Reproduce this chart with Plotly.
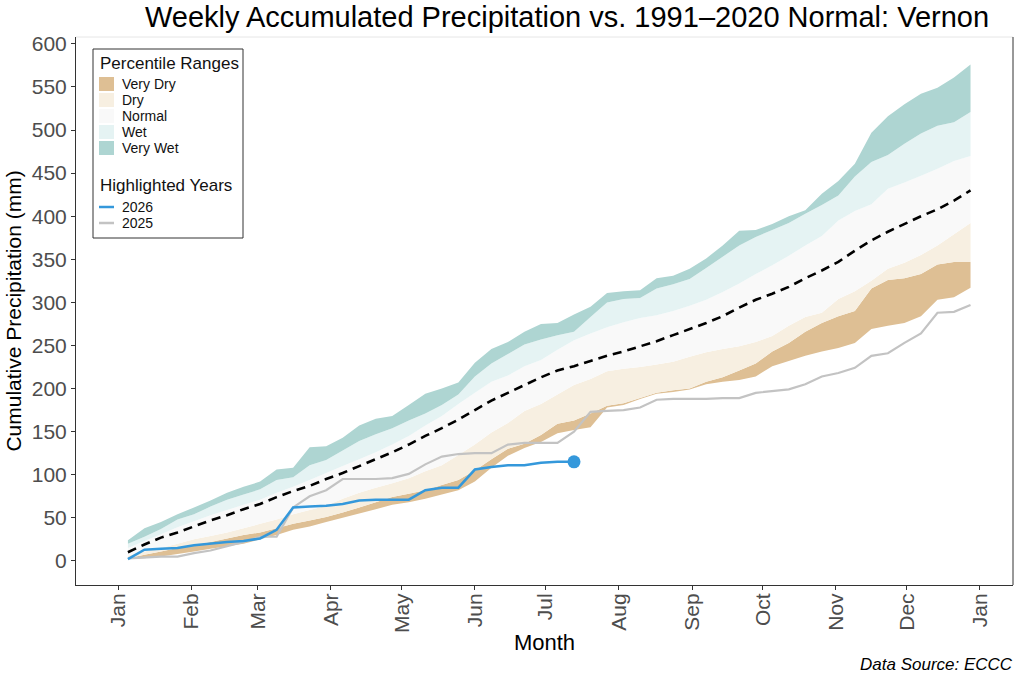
import pandas as pd
import plotly.graph_objects as go

# ---------------- data ----------------
weeks = pd.date_range("2026-01-05", periods=52, freq="7D")

pmax = [24, 38, 45, 54, 62, 70, 79, 86, 92, 106, 108, 132, 133,
        143, 157, 165, 168, 181, 194, 200, 207, 230, 246, 254, 266, 275, 276, 286, 295,
        311, 313, 314, 328, 331, 339, 351, 366, 383, 384, 391, 400, 407, 426, 441, 461,
        497, 516, 530, 542, 549, 561, 576]
p90 = [20, 28, 37, 48, 54, 63, 71, 77, 83, 94, 97, 111, 117,
       128, 139, 147, 154, 163, 171, 181, 193, 214, 229, 240, 251, 257, 262, 266, 283,
       300, 304, 305, 316, 321, 327, 340, 353, 366, 376, 384, 392, 403, 413, 424, 446,
       463, 471, 484, 496, 505, 509, 521]
p75 = [15, 23, 31, 39, 46, 53, 59, 65, 71, 79, 86, 94, 102,
       110, 118, 126, 135, 145, 157, 168, 182, 195, 208, 215, 226, 233, 245, 256, 264,
       271, 277, 282, 285, 290, 296, 303, 312, 322, 333, 343, 354, 366, 377, 395, 406,
       414, 432, 439, 447, 455, 464, 470]
median = [10, 19, 27, 33, 40, 47, 53, 60, 66, 74, 81, 87, 95,
          102, 110, 118, 126, 135, 145, 154, 164, 175, 186, 195, 204, 213, 221, 226, 232,
          238, 243, 249, 255, 262, 269, 276, 284, 294, 303, 310, 318, 328, 337, 347, 360,
          372, 382, 391, 400, 408, 418, 430]
p25 = [6, 11, 15, 20, 25, 29, 33, 38, 43, 48, 54, 59, 64,
       72, 79, 85, 90, 96, 104, 111, 123, 135, 149, 160, 174, 182, 193, 204, 211,
       220, 223, 225, 228, 231, 237, 242, 246, 249, 254, 261, 273, 283, 288, 304, 313,
       325, 339, 346, 355, 366, 379, 392]
p10 = [3, 7, 11, 15, 18, 22, 26, 30, 33, 38, 43, 47, 51,
       56, 62, 68, 74, 78, 82, 88, 94, 105, 118, 130, 136, 146, 159, 163, 171,
       180, 183, 189, 195, 198, 200, 208, 213, 221, 229, 243, 253, 266, 276, 284, 290,
       316, 326, 328, 333, 344, 347, 347]
pmin = [2, 3, 5, 8, 11, 14, 17, 20, 25, 30, 36, 40, 45,
        50, 55, 60, 65, 68, 72, 77, 82, 92, 108, 122, 131, 138, 148, 152, 155,
        178, 181, 188, 194, 196, 199, 205, 208, 210, 214, 226, 232, 238, 243, 247, 253,
        269, 273, 276, 284, 303, 306, 317]

y2025 = [3, 4, 5, 5, 9, 12, 17, 22, 28, 28, 62, 75, 82,
         95, 95, 95, 96, 101, 112, 121, 124, 125, 125, 135, 137, 137, 137, 150, 173,
         174, 175, 178, 187, 188, 188, 188, 189, 189, 195, 197, 199, 205, 214, 218, 224,
         238, 241, 253, 264, 288, 289, 297]
y2026 = [2, 13, 14, 15, 18, 20, 22, 23, 26, 36, 62, 63, 64,
         66, 70, 71, 71, 71, 82, 85, 85, 106, 109, 111, 111, 114, 115, 115]

band_names = ["Very Dry", "Dry", "Normal", "Wet", "Very Wet"]
band_colors = ["#DEBF94", "#F7EFE1", "#F9F9F9", "#E5F3F3", "#AED5D2"]
band_edges = [pmin, p10, p25, p75, p90, pmax]

year_names = ["2026", "2025"]
year_colors = ["#3498DB", "#C3C3C3"]

month_ticks = pd.date_range("2026-01-01", "2027-01-01", freq="MS")
month_labels = ["Jan", "Feb", "Mar", "Apr", "May", "Jun", "Jul",
                "Aug", "Sep", "Oct", "Nov", "Dec", "Jan"]

FONT = "Liberation Sans, Arial, sans-serif"

# plot-area geometry (pixels) used for the legend box layout
W, H = 1024, 682
ML, MR, MT, MB = 76, 11, 37, 97
PW, PH = W - ML - MR, H - MT - MB


def px(x):
    return (x - ML) / PW


def py(y):
    return (H - MB - y) / PH


fig = go.Figure()

xs = list(weeks)
for i, (name, col) in enumerate(zip(band_names, band_colors)):
    lo = band_edges[i]
    hi = band_edges[i + 1]
    fig.add_trace(go.Scatter(
        x=xs + xs[::-1], y=list(hi) + list(lo)[::-1],
        fill="toself", fillcolor=col, mode="none", name=name,
        showlegend=False, hoverinfo="skip"))

fig.add_trace(go.Scatter(x=xs, y=median, mode="lines", showlegend=False,
                         line=dict(color="black", width=2.6, dash="9px,6px")))

fig.add_trace(go.Scatter(x=xs, y=y2025, mode="lines", name="2025", showlegend=False,
                         line=dict(color=year_colors[1], width=2.2)))
fig.add_trace(go.Scatter(x=xs[:len(y2026)], y=y2026, mode="lines", name="2026", showlegend=False,
                         line=dict(color=year_colors[0], width=2.5)))
fig.add_trace(go.Scatter(x=[xs[len(y2026) - 1]], y=[y2026[-1]], mode="markers",
                         marker=dict(color=year_colors[0], size=13), showlegend=False))

# ---- legend (drawn as a boxed key) ----
shapes = [
    dict(type="line", xref="paper", yref="paper", x0=0, x1=1, y0=1, y1=1,
         line=dict(color="#E6E6E6", width=1)),
    dict(type="line", xref="paper", yref="paper", x0=1, x1=1, y0=0, y1=1,
         line=dict(color="#333", width=1)),
    dict(type="rect", xref="paper", yref="paper", x0=px(93), x1=px(243), y0=py(238), y1=py(49),
         line=dict(color="#333", width=1), fillcolor="white", layer="above"),
]
annotations = [
    dict(text="Percentile Ranges", xref="paper", yref="paper", x=px(98), y=py(63),
         xanchor="left", yanchor="middle", showarrow=False, font=dict(size=17, color="#111")),
    dict(text="Highlighted Years", xref="paper", yref="paper", x=px(98), y=py(186),
         xanchor="left", yanchor="middle", showarrow=False, font=dict(size=17, color="#111")),
]
for i, (name, col) in enumerate(zip(band_names, band_colors)):
    yc = 84 + 16 * i
    shapes.append(dict(type="rect", xref="paper", yref="paper", x0=px(99), x1=px(114),
                       y0=py(yc + 7), y1=py(yc - 7), line=dict(width=0), fillcolor=col, layer="above"))
    annotations.append(dict(text=name, xref="paper", yref="paper", x=px(120), y=py(yc),
                            xanchor="left", yanchor="middle", showarrow=False,
                            font=dict(size=14, color="#111")))
for i, (name, col) in enumerate(zip(year_names, year_colors)):
    yc = 207 + 16 * i
    shapes.append(dict(type="line", xref="paper", yref="paper", x0=px(99), x1=px(114),
                       y0=py(yc), y1=py(yc), line=dict(color=col, width=2.5), layer="above"))
    annotations.append(dict(text=name, xref="paper", yref="paper", x=px(120), y=py(yc),
                            xanchor="left", yanchor="middle", showarrow=False,
                            font=dict(size=14, color="#111")))

annotations.append(dict(text="Data Source: ECCC", xref="paper", yref="paper", x=1.002, y=py(664),
                        xanchor="right", yanchor="middle", showarrow=False,
                        font=dict(size=17, color="black", family=FONT, style="italic")))

fig.update_layout(
    width=W, height=H,
    margin=dict(l=ML, r=MR, t=MT, b=MB),
    paper_bgcolor="white", plot_bgcolor="white",
    font=dict(family=FONT),
    showlegend=False,
    title=dict(text="Weekly Accumulated Precipitation vs. 1991\u20132020 Normal: Vernon",
               x=567 / W, xanchor="center", y=1 - 17 / H, yanchor="middle",
               font=dict(size=29, color="black")),
    xaxis=dict(range=["2025-12-14", "2027-01-15"], type="date",
               tickvals=list(month_ticks), ticktext=month_labels, tickangle=-90,
               tickfont=dict(size=21, color="#4D4D4D"), ticklabelstandoff=-5,
               ticks="outside", ticklen=4, tickcolor="#333",
               showline=True, linecolor="#333", linewidth=1, showgrid=False, zeroline=False,
               title=dict(text="Month", font=dict(size=22, color="black"), standoff=2)),
    yaxis=dict(range=[-28, 608], tickvals=list(range(0, 601, 50)),
               tickfont=dict(size=21, color="#4D4D4D"),
               ticks="outside", ticklen=4, tickcolor="#333",
               showline=True, linecolor="#333", linewidth=1, showgrid=False, zeroline=False,
               title=dict(text="Cumulative Precipitation (mm)", font=dict(size=21, color="black"), standoff=4)),
    shapes=shapes,
    annotations=annotations,
)

fig.write_html("out.html")
